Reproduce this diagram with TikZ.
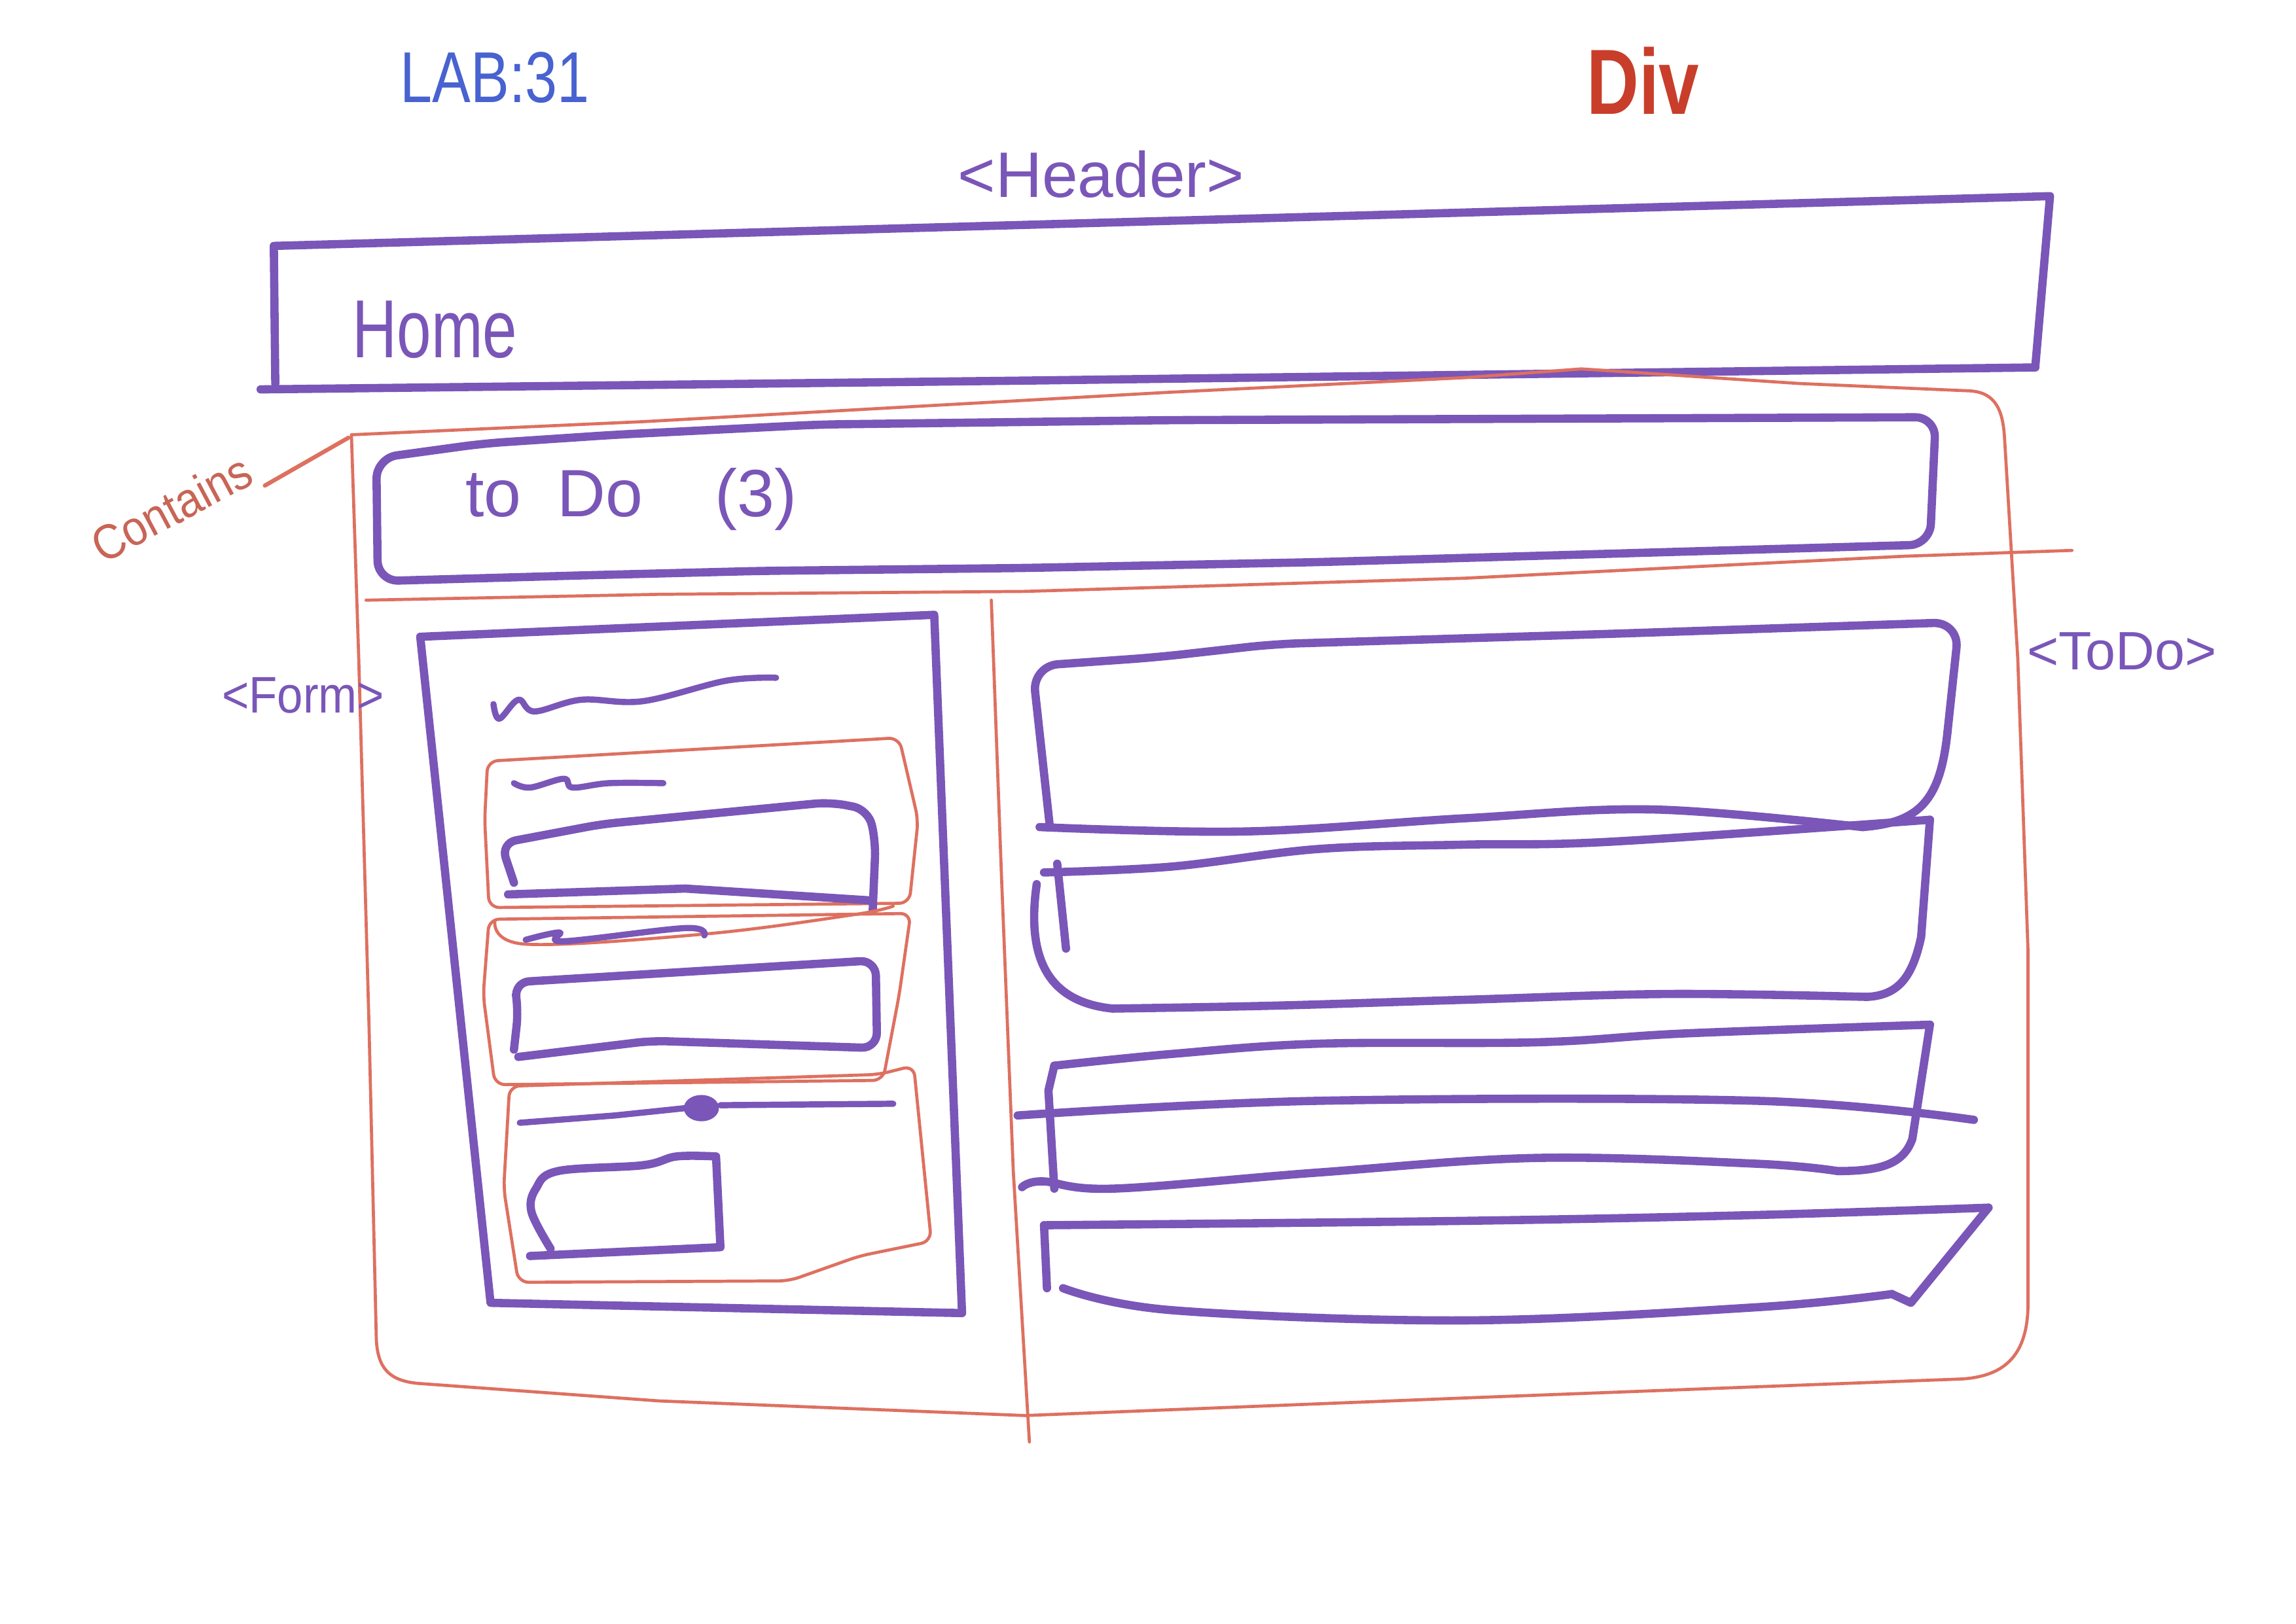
\documentclass[tikz,border=0pt]{standalone}
\usepackage{fontspec}
\setmainfont{Liberation Sans}
\definecolor{crayon}{RGB}{122,86,184}
\definecolor{redline}{RGB}{222,112,96}
\definecolor{divred}{RGB}{200,62,42}
\definecolor{labblue}{RGB}{72,98,208}
\begin{document}
\begin{tikzpicture}[x=0.01cm,y=-0.01cm,line cap=round,line join=round,
  pen/.style={draw=crayon,line width=1.6pt},
  thinpen/.style={draw=crayon,line width=1.2pt},
  redpen/.style={draw=redline,line width=0.6pt},
  lbl/.style={text=crayon,inner sep=1pt}]
\useasboundingbox (0,0) rectangle (1568,1109);
\fill[white] (0,0) rectangle (1568,1109);

% ---------- titles ----------
\node[inner sep=1pt,text=labblue] (lab) at (338,53) {\fontsize{14}{16}\selectfont\scalebox{0.8}[1]{LAB:31}};
\node[inner sep=1pt,text=divred] (div) at (1122,55) {\fontsize{18}{20}\selectfont\scalebox{0.78}[1]{\bfseries Div}};
\node[lbl] (headerlbl) at (752,119) {\fontsize{12.5}{14}\selectfont <Header>};

% ---------- header box ----------
\draw[pen] (188,262) -- (187,168) -- (1400,134) -- (1390,250);
\draw[pen] (178,266) -- (700,260) -- (1390,251);
\node[lbl] (home) at (297,225) {\fontsize{16}{18}\selectfont\scalebox{0.75}[1]{Home}};

% ---------- red container ----------
\draw[redpen] (240,297) -- (440,288) -- (798,268) -- (1000,258) -- (1080,252) -- (1229,262) -- (1345,267)
  .. controls (1364,268) and (1368,282) .. (1369,300) -- (1378,450) -- (1385,650) -- (1385,890)
  .. controls (1385,925) and (1370,940) .. (1340,942) -- (1000,955) -- (700,967) -- (450,957) -- (285,945)
  .. controls (266,943) and (258,935) .. (257,915) -- (252,700) -- (245,450) -- cycle;
\draw[redpen] (250,410) -- (450,406) -- (700,404) -- (1000,395) -- (1300,380) -- (1415,376);
\draw[redpen] (677,410) -- (684,600) -- (692,800) -- (703,985);
\coordinate (conttl) at (238,299);
\node[inner sep=1pt,text=redline!90!black,rotate=28] (contains) at (117,347) {\fontsize{9.5}{11}\selectfont\scalebox{0.9}[1]{Contains}};
\draw[draw=redline,line width=0.8pt] (contains.south east) -- (conttl);

% ---------- to do box ----------
\draw[pen,rounded corners=4pt] (257,313) -- (330,303) -- (420,297) -- (560,290) -- (800,287) -- (1322,285)
  -- (1318,372) -- (900,384) -- (700,388) -- (520,390) -- (400,393) -- (258,397) -- cycle;
\node[lbl] (todolbl) at (431,341) {\fontsize{13}{15}\selectfont to\hspace{7pt}Do\hspace{14pt}(3)};

% ---------- form ----------
\node[lbl] (formlbl) at (207,475) {\fontsize{10}{12}\selectfont\scalebox{0.9}[1]{<Form>}};
\draw[pen] (287,435) -- (638,420) -- (657,897) -- (335,890) -- cycle;
\draw[thinpen] plot[smooth,tension=0.6] coordinates {(337,481) (341,491) (354,478) (365,486) (397,478) (439,479) (496,465) (530,463)};
% field group 1
\draw[redpen,rounded corners=2pt] (333,520) -- (614,504) -- (627,560) -- (621,617) -- (334,620) -- (331,560) -- cycle;
\draw[thinpen] plot[smooth,tension=0.6] coordinates {(351,535) (362,538) (385,532) (391,538) (416,535) (453,535)};
\draw[pen,rounded corners=3pt] (351,603) -- (342,576) -- (411,563) -- (567,548) -- (593,553) -- (598,575) -- (596,622);
\draw[pen] (347,611) -- (468,607) -- (593,615);
% field group 2
\draw[redpen,rounded corners=2pt] (334,628) -- (622,624) -- (614,680) -- (603,738) -- (338,741) -- (330,680) -- cycle;
\draw[redpen] plot[smooth,tension=0.6] coordinates {(338,629) (359,645) (482,638) (582,625) (610,619)};
\draw[thinpen] plot[smooth,tension=0.6] coordinates {(359,642) (382,637) (385,643) (468,634) (481,639)};
\draw[pen,rounded corners=3pt] (351,717) -- (354,690) -- (351,671) -- (598,656) -- (599,716) -- (445,711) -- (354,722);
% field group 3
\draw[redpen,rounded corners=2pt] (348,742) -- (600,734) -- (624,728) -- (636,848) -- (587,858) -- (539,875) -- (354,876) -- (344,812) -- cycle;
\draw[thinpen] (355,767) -- (420,762) -- (468,757);
\draw[thinpen] (492,755) -- (610,754);
\fill[crayon] (479,757) ellipse [x radius=12,y radius=9];
\draw[pen] plot[smooth,tension=0.6] coordinates {(376,853) (363,828) (366,812) (381,800) (439,796) (462,790) (489,790)} -- (492,852) -- (362,858);

% ---------- to do list ----------
\node[lbl] (todolist) at (1449,445) {\fontsize{10.5}{12}\selectfont <ToDo>};
% card 1
\draw[pen,rounded corners=5pt] (717,565) -- (705,455) -- (790,449) -- (870,440) -- (1100,433) -- (1338,425) -- (1330,500);
\draw[pen] (1330,500) .. controls (1325,548) and (1310,562) .. (1272,565);
\draw[pen] plot[smooth,tension=0.6] coordinates {(710,565) (850,568) (1000,559) (1130,553) (1272,565)};
% card 2
\draw[pen] (722,590) -- (728,648);
\draw[pen] plot[smooth,tension=0.6] coordinates {(713,596) (800,592) (900,580) (1000,577) (1100,575) (1318,560)};
\draw[pen] (1318,560) -- (1312,640) .. controls (1306,668) and (1296,680) .. (1275,681);
\draw[pen] plot[smooth,tension=0.6] coordinates {(1275,681) (1140,679) (1000,683) (870,687) (760,689)};
\draw[pen] (760,689) .. controls (720,685) and (700,660) .. (708,604);
% card 3
\draw[pen] (720,812) -- (716,745) -- (720,728);
\draw[pen] plot[smooth,tension=0.6] coordinates {(720,728) (800,720) (900,713) (1050,712) (1150,706) (1318,700)};
\draw[pen] (1318,700) -- (1306,778) .. controls (1300,795) and (1285,800) .. (1255,800);
\draw[pen] plot[smooth,tension=0.6] coordinates {(1255,800) (1200,795) (1050,791) (900,801) (760,812) (712,807) (698,811)};
\draw[pen] plot[smooth,tension=0.6] coordinates {(695,762) (900,752) (1200,752) (1348,765)};
% card 4
\draw[pen] (715,880) -- (713,837);
\draw[pen] plot[smooth,tension=0.6] coordinates {(713,837) (1000,834) (1200,830) (1358,825)};
\draw[pen] (1358,825) -- (1305,890) -- (1292,884);
\draw[pen] plot[smooth,tension=0.6] coordinates {(1292,884) (1200,893) (1000,902) (800,895) (726,880)};
\end{tikzpicture}
\end{document}
